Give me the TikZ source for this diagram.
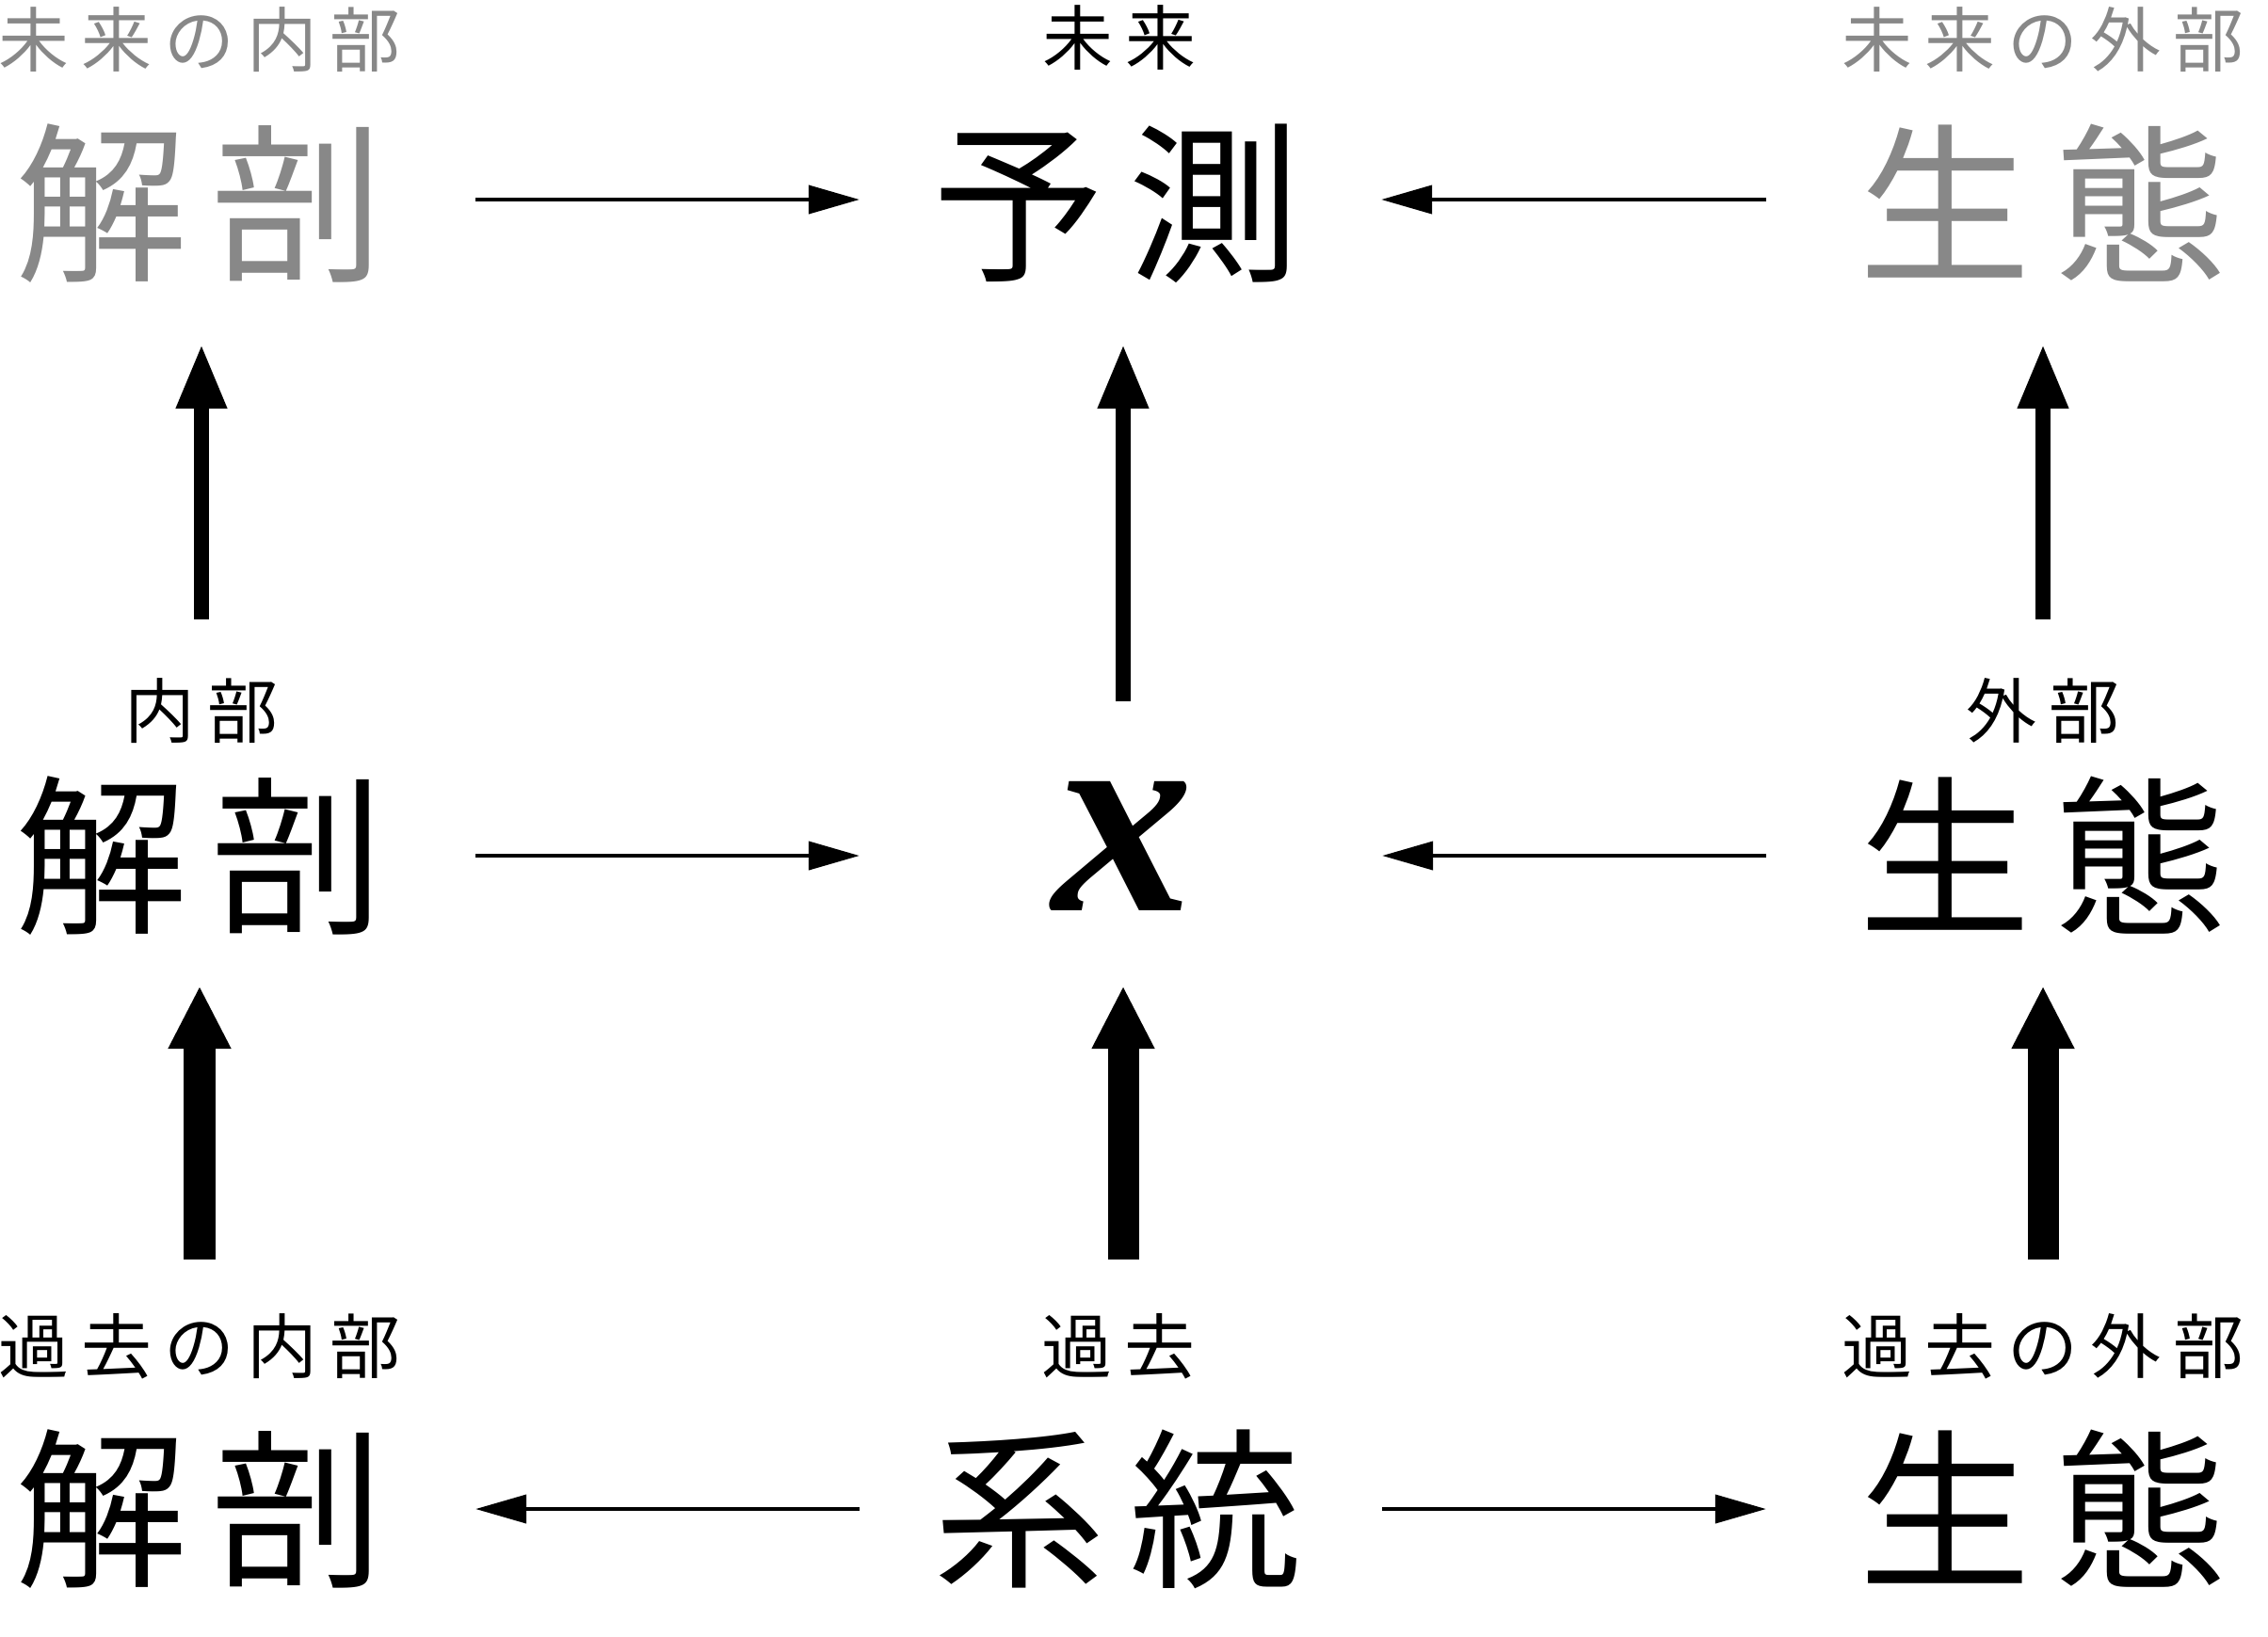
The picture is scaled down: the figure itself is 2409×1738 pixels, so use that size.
\documentclass[tikz,border=0pt]{standalone}
\usepackage{fontspec}
\newfontfamily\jpfont{Noto Sans CJK JP}
\newfontfamily\xfont{Liberation Serif}
\usetikzlibrary{arrows.meta}
\definecolor{fgray}{RGB}{136,136,136}
\newcommand\bigsp{\hspace{7.4pt}}
\newcommand\smsp{\hspace{3.7pt}}
\begin{document}
\begin{tikzpicture}[x=0.01cm,y=-0.01cm,
  big/.style={inner sep=0pt, font=\jpfont\fontsize{52}{60}\selectfont},
  lab/.style={inner sep=0pt, font=\jpfont\fontsize{21.3}{26}\selectfont},
  fut/.style={text=fgray},
  harr/.style={line width=0.04cm, -{Triangle[length=0.54cm,width=0.30cm]}},
  varr/.style={line width=0.16cm, -{Triangle[length=0.69cm,width=0.5cm]}},
  vthick/.style={line width=0.33cm, -{Triangle[length=0.67cm,width=0.62cm]}},
]
\useasboundingbox (0,0) rectangle (2409,1738);
% row 1 (future)
\node[lab,fut] (tL) at (212,42) {未\smsp 来\smsp の\smsp 内\smsp 部};
\node[big,fut] (L1) at (212,216) {解\bigsp 剖};
\node[lab] (tC) at (1189,40) {未\smsp 来};
\node[big] (C1) at (1186,216) {予\bigsp 測};
\node[lab,fut] (tR) at (2170,42) {未\smsp 来\smsp の\smsp 外\smsp 部};
\node[big,fut] (R1) at (2170,216) {生\bigsp 態};
% row 2 (present)
\node[lab] (mL) at (214,755) {内\smsp 部};
\node[big] (L2) at (212,909) {解\bigsp 剖};
\node[inner sep=0pt, font=\xfont\bfseries\itshape\fontsize{85}{90}\selectfont] (X) at (1193,899) {x};
\node[lab] (mR) at (2170,755) {外\smsp 部};
\node[big] (R2) at (2170,909) {生\bigsp 態};
% row 3 (past)
\node[lab] (bL) at (212,1430) {過\smsp 去\smsp の\smsp 内\smsp 部};
\node[big] (L3) at (212,1603) {解\bigsp 剖};
\node[lab] (bC) at (1188,1430) {過\smsp 去};
\node[big] (C3) at (1187,1603) {系\bigsp 統};
\node[lab] (bR) at (2170,1430) {過\smsp 去\smsp の\smsp 外\smsp 部};
\node[big] (R3) at (2170,1603) {生\bigsp 態};
% horizontal arrows
\draw[harr, shorten <=2.93cm, shorten >=2.73cm] ([yshift=0.04cm]L1.center) -- ([yshift=0.04cm]C1.center |- L1.center);
\draw[harr, shorten <=2.94cm, shorten >=2.81cm] ([yshift=0.04cm]R1.center) -- ([yshift=0.04cm]C1.center |- R1.center);
\draw[harr, shorten <=2.93cm, shorten >=2.80cm] (L2.center) -- (X.center |- L2.center);
\draw[harr, shorten <=2.94cm, shorten >=2.75cm] (R2.center) -- (X.center |- R2.center);
\draw[harr, shorten <=2.74cm, shorten >=2.93cm] (C3.center) -- (L3.center |- C3.center);
\draw[harr, shorten <=2.81cm, shorten >=2.94cm] (C3.center) -- (R3.center |- C3.center);
% vertical arrows, present to future
\draw[varr, shorten <=0.97cm, shorten >=1.49cm] (mL.center) -- (mL.center |- L1.center);
\draw[varr, shorten <=1.54cm, shorten >=1.49cm] (X.center) -- (X.center |- C1.center);
\draw[varr, shorten <=0.97cm, shorten >=1.49cm] (mR.center) -- (mR.center |- R1.center);
% vertical arrows, past to present
\draw[vthick, shorten <=0.92cm, shorten >=1.38cm] (bL.center) -- (bL.center |- L2.center);
\draw[vthick, shorten <=0.92cm, shorten >=1.48cm] (X.center |- bC.center) -- (X.center);
\draw[vthick, shorten <=0.92cm, shorten >=1.38cm] (bR.center) -- (bR.center |- R2.center);
\end{tikzpicture}
\end{document}
